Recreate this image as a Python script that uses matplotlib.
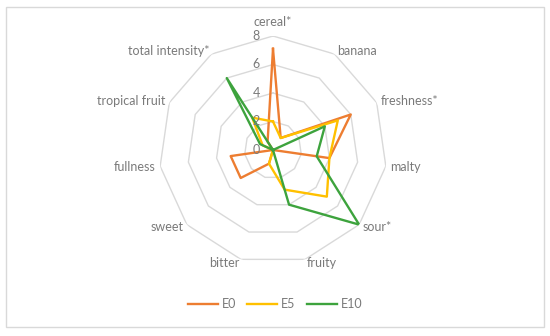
import numpy as np
import matplotlib
matplotlib.use("Agg")
import matplotlib.pyplot as plt
from matplotlib.patches import Rectangle

# sensory attributes, clockwise from top
categories = ["cereal*", "banana", "freshness*", "malty", "sour*", "fruity",
              "bitter", "sweet", "fullness", "tropical fruit", "total intensity*"]

e0 = [7.1, 1.0, 6.0, 4.0, 0.0, 0.0, 1.0, 3.0, 3.0, 0.0, 0.7]
e5 = [2.0, 1.0, 5.0, 4.0, 5.0, 2.9, 1.0, 0.0, 0.0, 0.8, 2.7]
e10 = [0.0, 0.0, 4.0, 3.1, 8.0, 4.0, 0.0, 0.0, 0.0, 1.0, 6.0]

series = [("E0", e0, "#ED7D31"), ("E5", e5, "#FFC000"), ("E10", e10, "#3DA33D")]
rticks = [0, 2, 4, 6, 8]

plt.rcParams["font.family"] = ["Lato", "DejaVu Sans"]
txt_color = "#7a7a7a"

fig = plt.figure(figsize=(5.5, 3.36), dpi=100)
fig.patches.append(Rectangle((6 / 550, 1 - 327 / 336), 538 / 550, 320 / 336,
                             transform=fig.transFigure, fill=False,
                             edgecolor="#d9d9d9", linewidth=1.0))

ax = fig.add_axes([0.2891, 0.2143, 0.4145, 0.6786], projection="polar")
ax.set_theta_offset(np.pi / 2)
ax.set_theta_direction(-1)
ax.set_ylim(0, 8)
ax.axis("off")

n = len(categories)
theta = np.arange(n) * 2 * np.pi / n
closed = np.append(theta, theta[0])

# polygon grid rings
for r in rticks[1:]:
    ax.plot(closed, [r] * (n + 1), color="#d9d9d9", lw=1.0, zorder=1)

for name, vals, col in series:
    ax.plot(closed, vals + vals[:1], color=col, lw=1.7, label=name, zorder=3)

# category labels
for t, lab in zip(theta, categories):
    deg = np.degrees(t)
    if deg < 1:
        ax.text(t, 9.0, lab, ha="center", va="center", fontsize=9, color=txt_color)
    elif deg < 180:
        ax.text(t, 8.3, lab, ha="left", va="center", fontsize=9, color=txt_color)
    else:
        ax.text(t, 8.3, lab, ha="right", va="center", fontsize=9, color=txt_color)

# radial tick labels along the cereal axis
for r in rticks:
    ax.annotate(str(r), xy=(0, r), xytext=(-12, 0), textcoords="offset points",
                ha="center", va="center", fontsize=9, color=txt_color,
                annotation_clip=False)

leg = fig.legend(loc="center", bbox_to_anchor=(0.5, 1 - 304 / 336), ncol=3,
                 frameon=False, fontsize=9, handlelength=2.4, handletextpad=0.3,
                 columnspacing=0.9)
for t in leg.get_texts():
    t.set_color(txt_color)

fig.savefig("out.png", dpi=100, facecolor="white")
